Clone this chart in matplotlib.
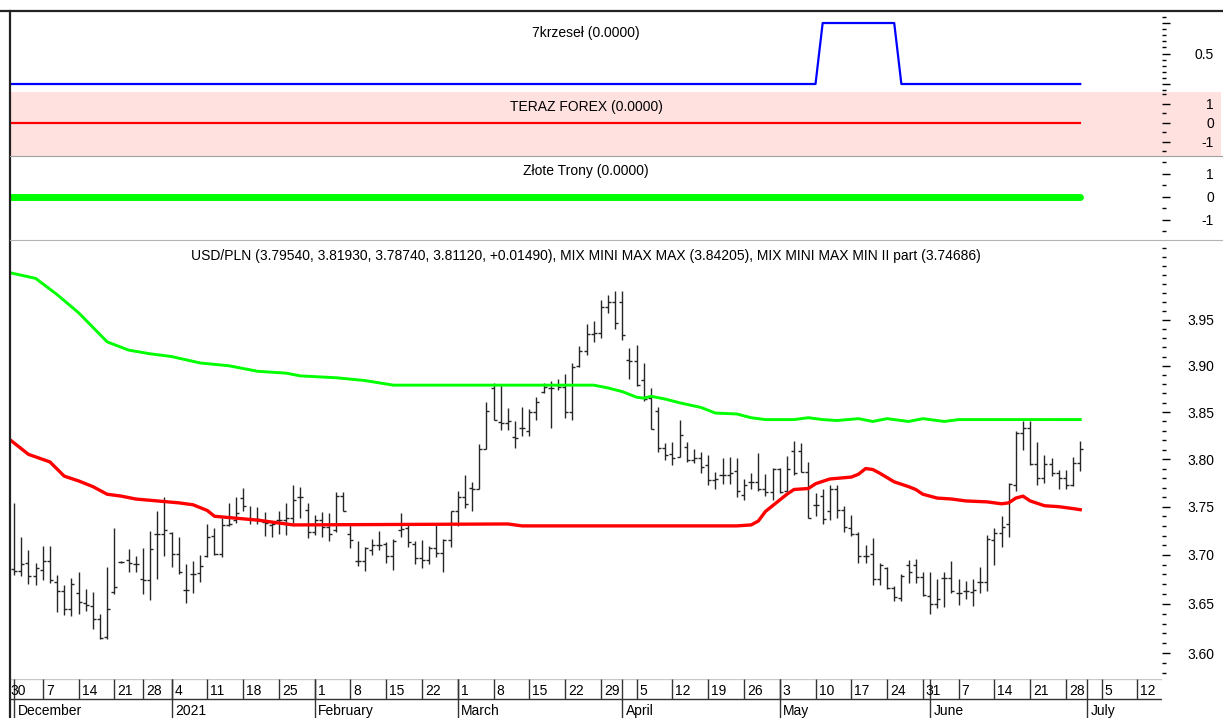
import numpy as np
import pandas as pd
import matplotlib
matplotlib.use('Agg')
import matplotlib.pyplot as plt
from matplotlib.lines import Line2D
from matplotlib.patches import Rectangle
from matplotlib.ticker import FixedLocator, FixedFormatter, NullFormatter

plt.rcParams['font.family'] = ['Liberation Sans', 'DejaVu Sans']
FS = 10

# trading calendar (forex days: weekdays without Christmas and New Year)
holidays = ['2020-12-25', '2021-01-01']
days = pd.bdate_range('2020-11-30', '2021-07-16')
days = days[~days.isin(pd.to_datetime(holidays))]

# USD/PLN daily bars, 2020-12-01 .. 2021-06-30
first_bar = '2020-12-01'
opens = [3.686, 3.683, 3.692, 3.678, 3.685, 3.694, 3.672, 3.663, 3.645, 3.661,
         3.651, 3.648, 3.635, 3.616, 3.662, 3.693, 3.695, 3.691, 3.675, 3.674,
         3.722, 3.722, 3.723, 3.701, 3.664, 3.680, 3.681, 3.699, 3.720, 3.701,
         3.731, 3.736, 3.759, 3.737, 3.737, 3.734, 3.731, 3.736, 3.736, 3.738,
         3.760, 3.747, 3.724, 3.736, 3.729, 3.726, 3.761, 3.722, 3.694, 3.694,
         3.705, 3.710, 3.711, 3.699, 3.726, 3.728, 3.711, 3.697, 3.695, 3.707,
         3.702, 3.715, 3.745, 3.760, 3.770, 3.768, 3.811, 3.876, 3.839, 3.838,
         3.823, 3.833, 3.830, 3.850, 3.872, 3.876, 3.879, 3.877, 3.850, 3.900,
         3.916, 3.935, 3.936, 3.964, 3.970, 3.970, 3.906, 3.905, 3.885, 3.865,
         3.851, 3.812, 3.805, 3.802, 3.813, 3.799, 3.801, 3.794, 3.778, 3.783,
         3.783, 3.787, 3.762, 3.776, 3.776, 3.768, 3.765, 3.790, 3.766, 3.809,
         3.809, 3.786, 3.752, 3.761, 3.745, 3.768, 3.747, 3.728, 3.722, 3.699,
         3.701, 3.675, 3.687, 3.666, 3.656, 3.690, 3.690, 3.677, 3.658, 3.650,
         3.676, 3.676, 3.661, 3.663, 3.662, 3.672, 3.672, 3.715, 3.723, 3.732,
         3.773, 3.828, 3.833, 3.795, 3.780, 3.795, 3.785, 3.780, 3.773, 3.7954]
highs = [3.754, 3.719, 3.705, 3.692, 3.709, 3.709, 3.679, 3.669, 3.676, 3.682,
         3.665, 3.662, 3.640, 3.688, 3.728, 3.694, 3.706, 3.699, 3.707, 3.725,
         3.745, 3.760, 3.724, 3.719, 3.691, 3.694, 3.700, 3.732, 3.728, 3.738,
         3.754, 3.760, 3.770, 3.751, 3.750, 3.744, 3.735, 3.746, 3.754, 3.773,
         3.771, 3.754, 3.741, 3.744, 3.743, 3.765, 3.765, 3.732, 3.714, 3.708,
         3.716, 3.725, 3.713, 3.716, 3.743, 3.733, 3.714, 3.715, 3.709, 3.731,
         3.716, 3.746, 3.766, 3.783, 3.776, 3.816, 3.861, 3.881, 3.880, 3.854,
         3.841, 3.855, 3.853, 3.866, 3.881, 3.884, 3.886, 3.891, 3.903, 3.921,
         3.946, 3.949, 3.972, 3.977, 3.982, 3.982, 3.919, 3.923, 3.903, 3.876,
         3.855, 3.817, 3.818, 3.842, 3.818, 3.811, 3.808, 3.804, 3.786, 3.801,
         3.802, 3.801, 3.779, 3.785, 3.806, 3.784, 3.791, 3.791, 3.803, 3.819,
         3.817, 3.797, 3.764, 3.768, 3.773, 3.773, 3.751, 3.741, 3.724, 3.710,
         3.717, 3.692, 3.688, 3.668, 3.680, 3.695, 3.696, 3.682, 3.682, 3.675,
         3.682, 3.694, 3.675, 3.673, 3.675, 3.688, 3.721, 3.728, 3.740, 3.775,
         3.830, 3.841, 3.841, 3.818, 3.804, 3.801, 3.788, 3.788, 3.802, 3.8193]
lows = [3.679, 3.678, 3.670, 3.669, 3.674, 3.671, 3.642, 3.639, 3.638, 3.640,
        3.643, 3.624, 3.614, 3.614, 3.660, 3.692, 3.682, 3.682, 3.660, 3.654,
        3.675, 3.699, 3.688, 3.680, 3.651, 3.661, 3.672, 3.698, 3.700, 3.698,
        3.730, 3.733, 3.746, 3.732, 3.732, 3.720, 3.719, 3.722, 3.721, 3.733,
        3.738, 3.717, 3.721, 3.719, 3.714, 3.724, 3.745, 3.707, 3.689, 3.683,
        3.700, 3.705, 3.692, 3.684, 3.719, 3.708, 3.691, 3.687, 3.691, 3.698,
        3.682, 3.708, 3.730, 3.749, 3.745, 3.768, 3.811, 3.842, 3.831, 3.831,
        3.812, 3.824, 3.825, 3.842, 3.871, 3.833, 3.874, 3.844, 3.842, 3.899,
        3.912, 3.926, 3.930, 3.958, 3.940, 3.928, 3.886, 3.878, 3.862, 3.832,
        3.808, 3.799, 3.794, 3.802, 3.797, 3.796, 3.785, 3.773, 3.769, 3.774,
        3.774, 3.760, 3.757, 3.768, 3.766, 3.761, 3.757, 3.764, 3.766, 3.783,
        3.786, 3.738, 3.740, 3.732, 3.736, 3.738, 3.724, 3.720, 3.692, 3.692,
        3.669, 3.669, 3.665, 3.653, 3.653, 3.671, 3.671, 3.658, 3.640, 3.646,
        3.647, 3.661, 3.649, 3.655, 3.648, 3.661, 3.663, 3.690, 3.708, 3.718,
        3.766, 3.810, 3.794, 3.773, 3.775, 3.782, 3.768, 3.768, 3.772, 3.7874]
closes = [3.683, 3.691, 3.678, 3.687, 3.694, 3.674, 3.663, 3.645, 3.670, 3.652,
          3.649, 3.635, 3.615, 3.645, 3.667, 3.693, 3.692, 3.691, 3.674, 3.706,
          3.722, 3.726, 3.701, 3.682, 3.664, 3.680, 3.689, 3.718, 3.701, 3.731,
          3.732, 3.743, 3.751, 3.737, 3.737, 3.733, 3.732, 3.736, 3.738, 3.757,
          3.760, 3.724, 3.736, 3.729, 3.722, 3.761, 3.746, 3.715, 3.694, 3.707,
          3.710, 3.710, 3.699, 3.714, 3.727, 3.713, 3.697, 3.695, 3.707, 3.702,
          3.715, 3.745, 3.760, 3.753, 3.769, 3.811, 3.851, 3.842, 3.838, 3.840,
          3.822, 3.833, 3.850, 3.861, 3.877, 3.876, 3.877, 3.850, 3.899, 3.916,
          3.935, 3.936, 3.964, 3.970, 3.947, 3.934, 3.905, 3.879, 3.864, 3.832,
          3.812, 3.804, 3.801, 3.826, 3.799, 3.801, 3.792, 3.778, 3.779, 3.783,
          3.785, 3.766, 3.773, 3.776, 3.768, 3.765, 3.790, 3.765, 3.790, 3.785,
          3.786, 3.738, 3.752, 3.737, 3.768, 3.747, 3.729, 3.722, 3.699, 3.699,
          3.675, 3.690, 3.666, 3.657, 3.678, 3.682, 3.677, 3.659, 3.650, 3.655,
          3.676, 3.663, 3.661, 3.663, 3.664, 3.672, 3.716, 3.723, 3.729, 3.774,
          3.828, 3.833, 3.795, 3.780, 3.795, 3.785, 3.780, 3.773, 3.7963, 3.8112]

# MIX MINI MAX MAX (upper, green) - trading day number, value
green_day = [0, 4, 7, 10, 13, 14, 17, 20, 23, 27, 31, 35, 39, 41, 46, 50, 54,
             82, 84, 86, 88, 89, 90, 92, 94, 97, 99, 102, 104, 106, 110, 112,
             114, 116, 119, 121, 123, 126, 128, 131, 133, 150]
green_val = [4.003, 3.996, 3.978, 3.958, 3.934, 3.926, 3.917, 3.913, 3.910,
             3.903, 3.900, 3.894, 3.892, 3.889, 3.887, 3.884, 3.879, 3.879,
             3.876, 3.872, 3.866, 3.865, 3.867, 3.864, 3.860, 3.855, 3.849,
             3.848, 3.844, 3.842, 3.842, 3.844, 3.842, 3.841, 3.843, 3.840,
             3.843, 3.840, 3.843, 3.840, 3.842, 3.84205]
# MIX MINI MAX MIN II part (lower, red)
red_day = [0, 3, 6, 8, 10, 12, 14, 16, 18, 21, 24, 26, 28, 29, 32, 35, 38, 40,
           70, 72, 102, 104, 105, 106, 108, 109, 110, 112, 113, 115, 118, 119,
           120, 121, 122, 124, 126, 127, 128, 130, 132, 134, 137, 139, 140, 141,
           142, 143, 145, 147, 149, 150]
red_val = [3.823, 3.805, 3.797, 3.782, 3.777, 3.771, 3.763, 3.761, 3.758,
           3.756, 3.754, 3.752, 3.746, 3.740, 3.738, 3.736, 3.733, 3.731,
           3.732, 3.730, 3.730, 3.731, 3.735, 3.745, 3.757, 3.763, 3.768,
           3.769, 3.774, 3.779, 3.781, 3.784, 3.790, 3.789, 3.785, 3.776,
           3.771, 3.768, 3.763, 3.759, 3.758, 3.756, 3.755, 3.753, 3.754,
           3.759, 3.761, 3.756, 3.751, 3.750, 3.748, 3.74686]

# indicator panels
krzesla_on = ('2021-05-11', '2021-05-25')
teraz_value = 0.0
zlote_value = 0.0
last_day = '2021-06-30'

# ---------------------------------------------------------------
W, H = 1223, 718
fig = plt.figure(figsize=(W / 100, H / 100), dpi=100)


def box(x0, y0, x1, y1):
    return [x0 / W, 1 - y1 / H, (x1 - x0) / W, (y1 - y0) / H]


X0, X1 = 10, 1162
XLIM = ((X0 - 7) / 7.155, (X1 - 7) / 7.155)

n_last = days.get_loc(pd.Timestamp(last_day))
line_x = np.arange(0, n_last + 1)
line_dates = days[:n_last + 1]


def style(ax, majors, labels, minors, ylim, log=False):
    for s in ax.spines.values():
        s.set_visible(False)
    ax.set_facecolor('none')
    if log:
        ax.set_yscale('log')
    ax.set_xlim(*XLIM)
    ax.set_ylim(*ylim)
    ax.xaxis.set_visible(False)
    ax.yaxis.tick_right()
    ax.yaxis.set_major_locator(FixedLocator(majors))
    ax.yaxis.set_major_formatter(FixedFormatter(labels))
    ax.yaxis.set_minor_locator(FixedLocator(minors))
    ax.yaxis.set_minor_formatter(NullFormatter())
    ax.tick_params(axis='y', which='major', direction='out', length=6, width=1,
                   pad=31.5, labelsize=FS, colors='black')
    ax.tick_params(axis='y', which='minor', direction='out', length=3, width=1,
                   colors='black')
    for lab in ax.get_yticklabels():
        lab.set_horizontalalignment('right')


# pink band behind the TERAZ FOREX panel
fig.add_artist(Rectangle((10 / W, 1 - 156 / H), 1211 / W, 64 / H,
                         transform=fig.transFigure, facecolor='#ffe1e0',
                         edgecolor='none', zorder=-5))

# panel 1: 7krzesel
ax1 = fig.add_axes(box(X0, 11, X1, 92))
krz = ((line_dates >= krzesla_on[0]) & (line_dates <= krzesla_on[1])).astype(float)
ax1.plot(line_x, krz, color='#0000ff', lw=1.6)
style(ax1, [0, 0.5, 1], ['', '0.5', ''], np.round(np.arange(-0.1, 1.25, 0.1), 2),
      (-0.131, 1.197))

# panel 2: TERAZ FOREX
ax2 = fig.add_axes(box(X0, 92, X1, 156))
ax2.plot(line_x, np.full(len(line_x), teraz_value), color='#ff0000', lw=1.6)
style(ax2, [-1, 0, 1], ['-1', '0', '1'], [-1.5, -0.5, 0.5, 1.5], (-1.74, 1.63))

# panel 3: Zlote Trony
ax3 = fig.add_axes(box(X0, 156, X1, 240))
ax3.plot(line_x, np.full(len(line_x), zlote_value), color='#00ff00', lw=5,
         solid_capstyle='round')
style(ax3, [-1, 0, 1], ['-1', '0', '1'], [-1.5, -0.5, 0.5, 1.5], (-1.87, 1.78))

# main price panel
ax = fig.add_axes(box(X0, 240, X1, 679))
bx = np.arange(len(opens)) + days.get_loc(pd.Timestamp(first_bar))
ax.vlines(bx, lows, highs, color='#262626', lw=1.0)
ax.hlines(opens, bx - 0.42, bx, color='#262626', lw=1.0)
ax.hlines(closes, bx, bx + 0.42, color='#262626', lw=1.0)
ax.plot(green_day, green_val, color='#00ff00', lw=2.1, zorder=3)
ax.plot(red_day, red_val, color='#ff0000', lw=2.4, zorder=3)
majors = np.round(np.arange(3.60, 3.951, 0.05), 2)
minors = np.round(np.arange(3.58, 4.031, 0.01), 2)
style(ax, majors, ['%.2f' % v for v in majors], minors, (3.5744, 4.0389), log=True)

# date strip
axd = fig.add_axes(box(X0, 679, X1, 718))
axd.set_xlim(*XLIM)
axd.set_ylim(39, 0)
axd.axis('off')
axd.hlines(0, XLIM[0], XLIM[1], color='#c8c8c8', lw=1)
axd.hlines(20, XLIM[0], XLIM[1], color='#333333', lw=1)
mondays = [i for i, d in enumerate(days) if d.weekday() == 0]
axd.vlines(mondays, 0, 20, color='#333333', lw=1)
for i in mondays:
    axd.text(i + 0.42, 16, str(days[i].day), ha='left', va='baseline', fontsize=FS)
month_starts = [i for i in range(1, len(days)) if days[i].month != days[i - 1].month]
axd.vlines(month_starts, 0, 39, color='#333333', lw=1)
for i in month_starts:
    name = '2021' if days[i].month == 1 else days[i].strftime('%B')
    axd.text(i + 0.5, 36, name, ha='left', va='baseline', fontsize=FS, clip_on=False)

# titles
fig.text(586 / W, 1 - 33 / H, '7krzeseł (%.4f)' % 0.0, ha='center', va='center', fontsize=FS)
fig.text(586 / W, 1 - 107 / H, 'TERAZ FOREX (%.4f)' % teraz_value, ha='center', va='center', fontsize=FS)
fig.text(586 / W, 1 - 171 / H, 'Złote Trony (%.4f)' % zlote_value, ha='center', va='center', fontsize=FS)
title = 'USD/PLN (%.5f, %.5f, %.5f, %.5f, %+.5f), MIX MINI MAX MAX (%.5f), MIX MINI MAX MIN II part (%.5f)' % (
    opens[-1], highs[-1], lows[-1], closes[-1], closes[-1] - closes[-2], green_val[-1], red_val[-1])
fig.text(586 / W, 1 - 256 / H, title, ha='center', va='center', fontsize=FS)

# frame lines
def fline(x0, y0, x1, y1, color, lw):
    fig.add_artist(Line2D([x0 / W, x1 / W], [1 - y0 / H, 1 - y1 / H],
                          transform=fig.transFigure, color=color, lw=lw, zorder=10))

fline(0, 11, W, 11, '#222222', 1.6)
fline(9.5, 11, 9.5, H, '#222222', 1.6)
fline(10, 156, W, 156, '#a0a0a0', 0.8)
fline(10, 240, W, 240, '#b4b4b4', 0.8)

fig.savefig('out.png', dpi=100, facecolor='white')
